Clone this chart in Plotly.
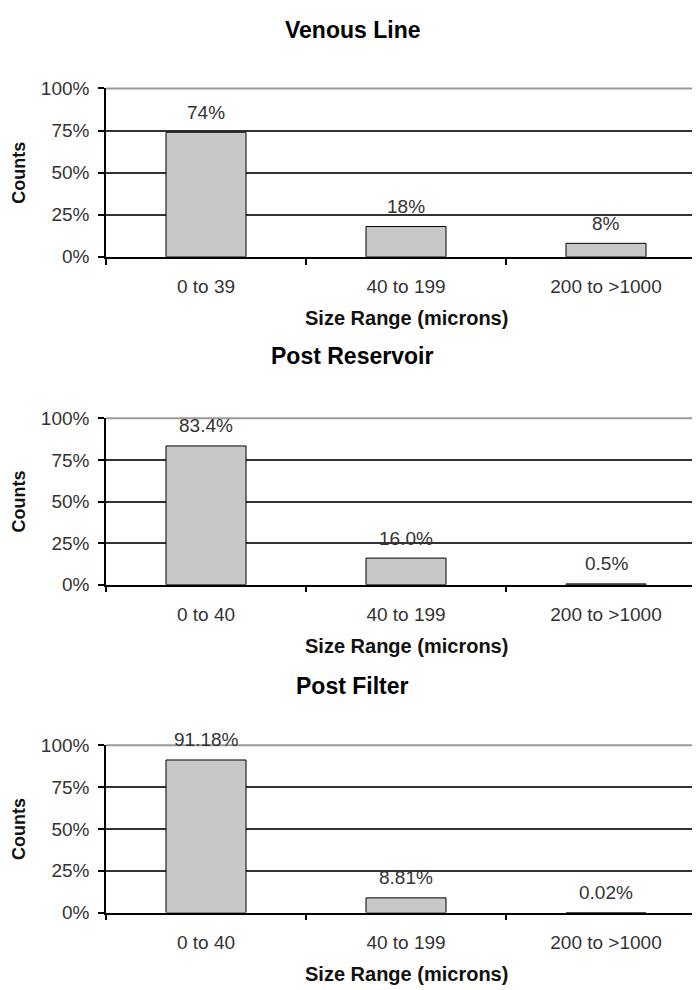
import plotly.graph_objects as go

W, H = 700, 990

titles = ["Venous Line", "Post Reservoir", "Post Filter"]
categories_1 = ["0 to 39", "40 to 199", "200 to >1000"]
categories_2 = ["0 to 40", "40 to 199", "200 to >1000"]
categories_3 = ["0 to 40", "40 to 199", "200 to >1000"]
values_1 = [74, 18, 8]
values_2 = [83.4, 16.0, 0.5]
values_3 = [91.18, 8.81, 0.02]
labels_1 = ["74%", "18%", "8%"]
labels_2 = ["83.4%", "16.0%", "0.5%"]
labels_3 = ["91.18%", "8.81%", "0.02%"]
y_ticks = [0, 25, 50, 75, 100]
y_tick_labels = ["0%", "25%", "50%", "75%", "100%"]
x_title = "Size Range (microns)"
y_title = "Counts"

panels = [
    (categories_1, values_1, labels_1),
    (categories_2, values_2, labels_2),
    (categories_3, values_3, labels_3),
]

# pixel layout (top, bottom of plot area; title y; axis-title y)
plot_px = [(72, 244), (409, 579), (743, 914)]
title_px = [12, 345, 682]
xtitle_px = [307, 642, 977]
x_left, x_right = 98, 698

FONT = "Liberation Sans, Arial, sans-serif"
TICK_COLOR = "#333333"

fig = go.Figure()
annotations = []
shapes = []
layout_axes = {}

for i, (cats, vals, labs) in enumerate(panels):
    n = "" if i == 0 else str(i + 1)
    xa, ya = "x" + n, "y" + n
    fig.add_trace(go.Bar(
        x=cats, y=vals, xaxis=xa, yaxis=ya, width=0.4,
        marker=dict(color="#c8c8c8", line=dict(color="#000000", width=1)),
        showlegend=False, hoverinfo="skip",
    ))
    top, bot = plot_px[i]
    layout_axes["xaxis" + n] = dict(
        domain=[x_left / W, x_right / W], anchor=ya,
        type="category", categoryorder="array", categoryarray=cats,
        range=[-0.5, 2.5], showline=True, linecolor="#000000", linewidth=1.5,
        ticks="outside", tickson="boundaries", ticklen=6, tickcolor="#000000",
        tickwidth=1.5, showgrid=False, fixedrange=True,
        tickfont=dict(family=FONT, size=19, color=TICK_COLOR),
        ticklabelstandoff=12,
    )
    layout_axes["yaxis" + n] = dict(
        domain=[1 - bot / H, 1 - top / H], anchor=xa, range=[0, 100],
        tickvals=y_ticks, ticktext=y_tick_labels,
        showline=True, linecolor="#000000", linewidth=1.5,
        ticks="outside", ticklen=6, tickcolor="#000000", tickwidth=1.5,
        showgrid=True, gridcolor="#333333", gridwidth=1.5,
        zeroline=False, fixedrange=True,
        tickfont=dict(family=FONT, size=19, color=TICK_COLOR),
        ticklabelstandoff=5,
    )
    # plot-area border (top and right) in grey
    shapes.append(dict(type="line", xref=xa + " domain", yref=ya + " domain",
                       x0=0, x1=1, y0=1, y1=1,
                       line=dict(color="#9a9a9a", width=2), layer="above"))
    shapes.append(dict(type="line", xref=xa + " domain", yref=ya + " domain",
                       x0=1, x1=1, y0=0, y1=1,
                       line=dict(color="#9a9a9a", width=1.5), layer="above"))
    # data labels
    for c, v, t in zip(cats, vals, labs):
        annotations.append(dict(x=c, y=v, xref=xa, yref=ya, text=t,
                                showarrow=False, yanchor="middle", yshift=20,
                                font=dict(family=FONT, size=19, color=TICK_COLOR)))
    # panel title
    annotations.append(dict(x=344 / W, y=1 - title_px[i] / H, xref="paper", yref="paper",
                            text="<b>" + titles[i] + "</b>", showarrow=False,
                            yanchor="middle", xanchor="center",
                            font=dict(family=FONT, size=23, color="#000000")))
    # x-axis title
    annotations.append(dict(x=(x_left + x_right) / 2 / W, y=1 - xtitle_px[i] / H,
                            xref="paper", yref="paper",
                            text="<b>" + x_title + "</b>", showarrow=False,
                            yanchor="middle", xanchor="center",
                            font=dict(family=FONT, size=20, color="#111111")))
    # y-axis title
    annotations.append(dict(x=11 / W, y=1 - (top + bot) / 2 / H,
                            xref="paper", yref="paper", textangle=-90,
                            text="<b>" + y_title + "</b>", showarrow=False,
                            yanchor="middle", xanchor="center",
                            font=dict(family=FONT, size=18, color="#111111")))

fig.update_layout(
    width=W, height=H, margin=dict(l=0, r=0, t=0, b=0),
    paper_bgcolor="#ffffff", plot_bgcolor="#ffffff",
    annotations=annotations, shapes=shapes, bargap=0.6,
    **layout_axes,
)

fig.write_html("out.html")
